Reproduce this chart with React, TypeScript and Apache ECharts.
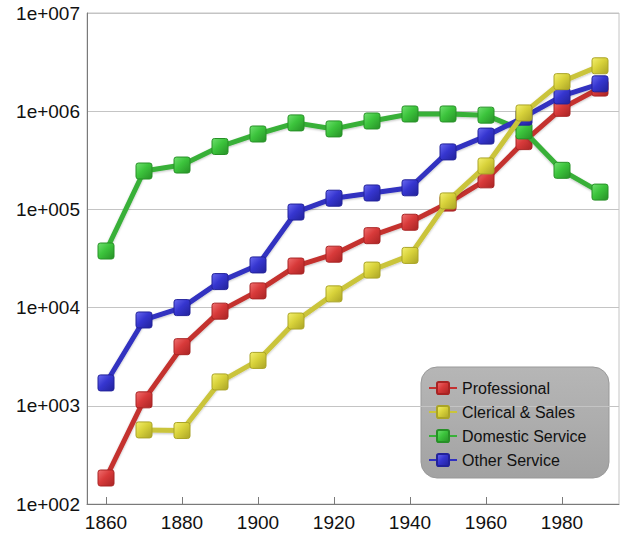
import React, { useEffect, useRef } from "react";
import * as echarts from "echarts";

const years = [1860, 1870, 1880, 1890, 1900, 1910, 1920, 1930, 1940, 1950, 1960, 1970, 1980, 1990];
const professional = [184, 1150, 4000, 9200, 14800, 26500, 35000, 54000, 74000, 116000, 200000, 490000, 1070000, 1720000];
const clerical = [null, 568, 560, 1750, 2900, 7300, 13800, 24100, 34000, 122000, 277000, 960000, 2000000, 2900000];
const domestic = [37700, 246000, 283000, 437000, 586000, 760000, 660000, 795000, 937000, 937000, 912000, 630000, 250000, 150000];
const other = [1710, 7480, 10000, 18400, 27200, 94000, 130000, 147000, 166000, 385000, 558000, 870000, 1430000, 1900000];
const xTicks = [1860, 1880, 1900, 1920, 1940, 1960, 1980];

const seriesDefs = [
  { name: "Professional", data: professional, line: "#c4302f", light: "#f07070", base: "#d83a3a", dark: "#a82424", z: 2 },
  { name: "Clerical & Sales", data: clerical, line: "#cac43a", light: "#f4f070", base: "#d8d23a", dark: "#aaa426", z: 5 },
  { name: "Domestic Service", data: domestic, line: "#38b038", light: "#70e070", base: "#3cc43c", dark: "#279027", z: 3 },
  { name: "Other Service", data: other, line: "#3030c0", light: "#6a6af0", base: "#3636d0", dark: "#22229a", z: 4 },
];

const squareSymbol = "path://M3,0 H17 Q20,0 20,3 V17 Q20,20 17,20 H3 Q0,20 0,17 V3 Q0,0 3,0 Z";

export default function App() {
  const ref = useRef<HTMLDivElement>(null);
  useEffect(() => {
    if (!ref.current) return;
    const chart = echarts.init(ref.current, null, { renderer: "svg" });
    const font = "Liberation Sans, Arial, sans-serif";
    chart.setOption({
      animation: false,
      backgroundColor: "#ffffff",
      grid: { left: 87, right: 5, top: 13, bottom: 34, show: true, borderColor: "#c4c4c4", borderWidth: 1, backgroundColor: "transparent" },
      graphic: [
        {
          type: "rect",
          z: -1,
          shape: { x: 421, y: 367, width: 188, height: 111, r: 16 },
          style: {
            fill: new echarts.graphic.LinearGradient(0, 0, 0, 1, [
              { offset: 0, color: "#b6b6b6" },
              { offset: 0.5, color: "#adadad" },
              { offset: 1, color: "#a2a2a2" },
            ]),
            stroke: "#999999",
            lineWidth: 1,
          },
        },
      ],
      xAxis: {
        type: "value",
        min: 1855,
        max: 1995,
        splitLine: { show: false },
        axisLine: { lineStyle: { color: "#7a7a7a", width: 1 } },
        axisTick: { show: true, inside: true, length: 7, customValues: xTicks, lineStyle: { color: "#7a7a7a" } },
        axisLabel: { customValues: xTicks, color: "#111", fontSize: 19, fontFamily: font, margin: 9, formatter: (v: number) => String(v) },
      },
      yAxis: {
        type: "log",
        logBase: 10,
        min: 100,
        max: 10000000,
        axisLine: { show: true, lineStyle: { color: "#7a7a7a", width: 1 } },
        axisTick: { show: false },
        splitLine: { show: true, lineStyle: { color: "#c4c4c4", width: 1 } },
        minorSplitLine: { show: false },
        axisLabel: {
          color: "#111",
          fontSize: 19,
          fontFamily: font,
          margin: 7,
          formatter: (v: number) => "1e+" + String(Math.round(Math.log10(v))).padStart(3, "0"),
        },
      },
      legend: {
        orient: "vertical",
        left: 428,
        top: 380,
        itemWidth: 28,
        itemHeight: 15,
        itemGap: 8,
        padding: 0,
        textStyle: { fontSize: 16, fontFamily: font, color: "#111" },
        data: seriesDefs.map((s) => s.name),
      },
      series: seriesDefs.map((s) => ({
        name: s.name,
        type: "line",
        z: s.z,
        data: years.map((y, i) => [y, s.data[i]]).filter((p) => p[1] != null),
        symbol: squareSymbol,
        symbolSize: 16,
        lineStyle: { color: s.line, width: 5, shadowColor: "rgba(0,0,0,0.25)", shadowBlur: 2, shadowOffsetY: 1 },
        itemStyle: {
          color: new echarts.graphic.LinearGradient(0, 0, 1, 1, [
            { offset: 0, color: s.light },
            { offset: 0.45, color: s.base },
            { offset: 1, color: s.dark },
          ]),
          borderColor: s.dark,
          borderWidth: 1,
        },
        emphasis: { disabled: true },
      })),
    });
    return () => chart.dispose();
  }, []);
  return <div ref={ref} style={{ position: "absolute", left: 0, top: 0, width: 624, height: 538 }} />;
}
